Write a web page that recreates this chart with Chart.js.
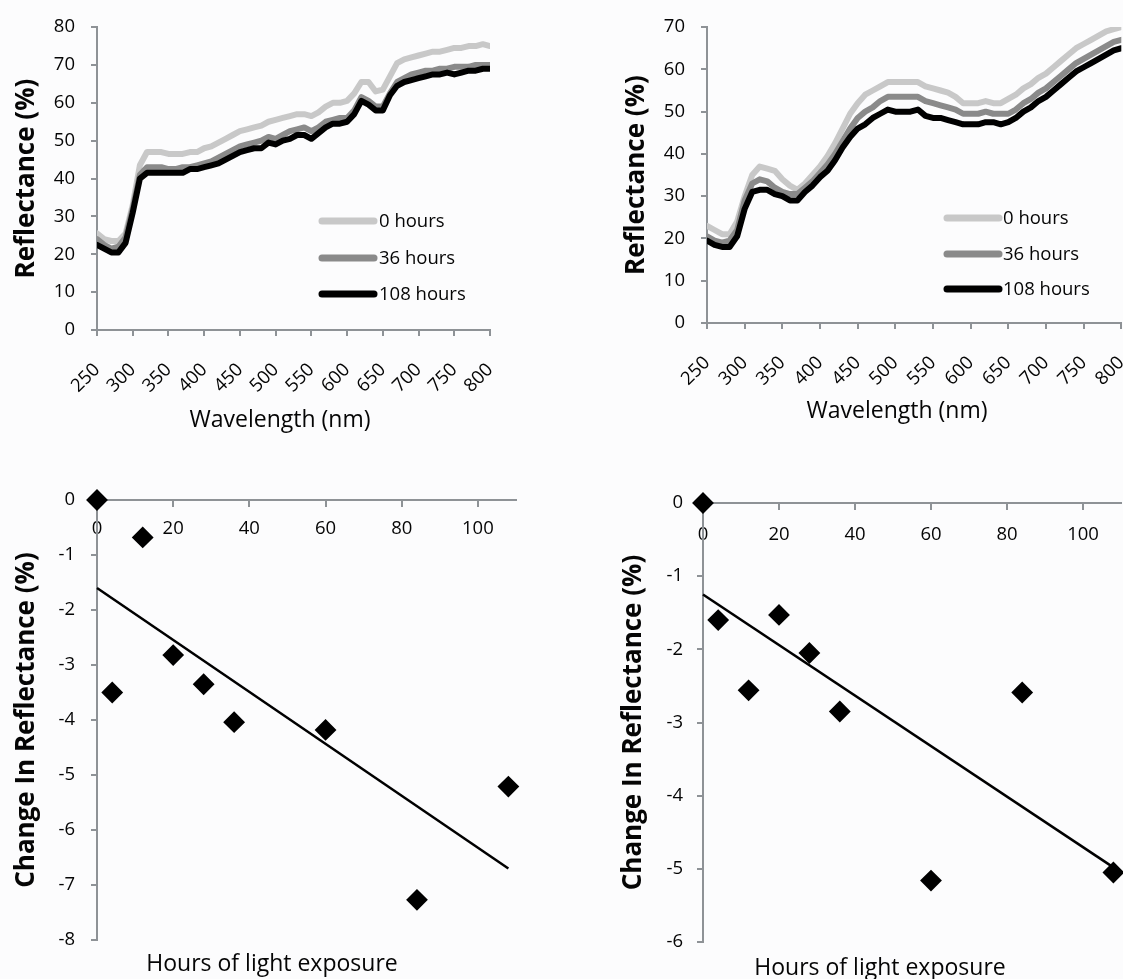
<!DOCTYPE html>
<html><head><meta charset="utf-8">
<script src="https://cdn.jsdelivr.net/npm/chart.js@4.4.1/dist/chart.umd.min.js"></script>
<style>
html,body{margin:0;padding:0;background:#fcfcfd;overflow:hidden;width:1123px;height:979px;}
canvas{position:absolute;}
</style></head><body>
<canvas id="c1" width="560" height="460" style="left:0;top:0;width:560px;height:460px"></canvas>
<canvas id="c2" width="600" height="460" style="left:560px;top:0;width:600px;height:460px"></canvas>
<canvas id="c3" width="560" height="519" style="left:0;top:460px;width:560px;height:519px"></canvas>
<canvas id="c4" width="600" height="519" style="left:560px;top:460px;width:600px;height:519px"></canvas>
<script>
// ---------- data ----------
const wavelengths = [250,260,270,280,290,300,310,320,330,340,350,360,370,380,390,400,410,420,430,440,450,460,470,480,490,500,510,520,530,540,550,560,570,580,590,600,610,620,630,640,650,660,670,680,690,700,710,720,730,740,750,760,770,780,790,800];
const seriesLabels = ['0 hours','36 hours','108 hours'];

const specA_0h   = [25.5,24,23.5,23.5,25.5,33,43.5,47,47,47,46.5,46.5,46.5,47,47,48,48.5,49.5,50.5,51.5,52.5,53,53.5,54,55,55.5,56,56.5,57,57,56.5,57.5,59,60,60,60.5,62.5,65.5,65.5,63,63.5,67,70.5,71.5,72,72.5,73,73.5,73.5,74,74.5,74.5,75,75,75.5,75];
const specA_36h  = [24,22.5,21.5,22,24.5,32,41,43,43,43,42.5,42.5,43,43,43.5,44,44.5,45.5,46.5,47.5,48.5,49,49.5,50,51,50.5,51.5,52.5,53,53.5,52.5,53.5,55,55.5,56,56,58,61.5,60.5,59,59,62.5,65.5,66.5,67.5,68,68.5,68.5,69,69,69.5,69.5,69.5,70,70,70];
const specA_108h = [22.5,21.5,20.5,20.5,23,31,40,41.5,41.5,41.5,41.5,41.5,41.5,42.5,42.5,43,43.5,44,45,46,47,47.5,48,48,49.5,49,50,50.5,51.5,51.5,50.5,52,53.5,54.5,54.5,55,57,60.5,59.5,58,58,62,64.5,65.5,66,66.5,67,67.5,67.5,68,67.5,68,68.5,68.5,69,69];

const specB_0h   = [23,22,21,21,24,30,35,37,36.5,36,34,32.5,31.5,33,35,37,39.5,42.5,46,49.5,52,54,55,56,57,57,57,57,57,56,55.5,55,54.5,53.5,52,52,52,52.5,52,52,53,54,55.5,56.5,58,59,60.5,62,63.5,65,66,67,68,69,69.5,70];
const specB_36h  = [20.5,19.5,19,19.5,22,29,33,34,33.5,32,31,30.5,30.5,32,33.5,35.5,37.5,40,43,46,48.5,50,51,52.5,53.5,53.5,53.5,53.5,53.5,52.5,52,51.5,51,50.5,49.5,49.5,49.5,50,49.5,49.5,49.5,50.5,52,53,54.5,55.5,57,58.5,60,61.5,62.5,63.5,64.5,65.5,66.5,67];
const specB_108h = [19.5,18.5,18,18,20.5,27,31,31.5,31.5,30.5,30,29,29,31,32.5,34.5,36,38.5,41.5,44,46,47,48.5,49.5,50.5,50,50,50,50.5,49,48.5,48.5,48,47.5,47,47,47,47.5,47.5,47,47.5,48.5,50,51,52.5,53.5,55,56.5,58,59.5,60.5,61.5,62.5,63.5,64.5,65];

const hours   = [0,4,12,20,28,36,60,84,108];
const changeA = [0,-3.5,-0.68,-2.82,-3.35,-4.04,-4.18,-7.27,-5.21];
const changeB = [0,-1.6,-2.56,-1.53,-2.05,-2.85,-5.16,-2.59,-5.05];
const trendHours = [0,108];
const trendA = [-1.6,-6.7];
const trendB = [-1.25,-4.98];

const specXTicks  = [250,300,350,400,450,500,550,600,650,700,750,800];
const specYTicksA = [0,10,20,30,40,50,60,70,80];
const specYTicksB = [0,10,20,30,40,50,60,70];
const hourTicks   = [0,20,40,60,80,100];
const changeTicksA = [0,-1,-2,-3,-4,-5,-6,-7,-8];
const changeTicksB = [0,-1,-2,-3,-4,-5,-6];

// ---------- styling ----------
const FONT = "'Open Sans', 'Noto Sans', sans-serif";
const TXT = '#050505';
const AXIS = '#8e9296';
const seriesColors = ['#c8c8c8','#8a8a8a','#000000'];

const xy = (xs, ys) => xs.map((x, i) => ({x, y: ys[i]}));

const annotate = {
  id: 'annotate',
  afterDraw(chart, args, opts) {
    const ctx = chart.ctx;
    ctx.save();
    if (opts.xTitle) {
      ctx.font = `23px ${FONT}`;
      ctx.fillStyle = TXT;
      ctx.textAlign = 'center';
      ctx.textBaseline = 'alphabetic';
      ctx.fillText(opts.xTitle.text, opts.xTitle.x, opts.xTitle.y);
    }
    if (opts.legend) {
      const L = opts.legend;
      chart.data.datasets.forEach((ds, i) => {
        const y = L.ys[i];
        ctx.strokeStyle = ds.borderColor;
        ctx.lineWidth = 7;
        ctx.lineCap = 'round';
        ctx.beginPath(); ctx.moveTo(L.x1, y); ctx.lineTo(L.x2, y); ctx.stroke();
        ctx.fillStyle = TXT;
        ctx.font = `18.5px ${FONT}`;
        ctx.textAlign = 'left';
        ctx.textBaseline = 'middle';
        ctx.fillText(ds.label, L.textX, y + 1);
      });
    }
    ctx.restore();
  }
};

function axisCommon() {
  return {
    grid: {display: true, drawOnChartArea: false, drawTicks: true, tickLength: 6, color: AXIS, lineWidth: 2},
    border: {display: true, color: AXIS, width: 2},
  };
}

function spectrumChart(id, series, yTicks, L) {
  const datasets = series.map((s, i) => ({
    label: seriesLabels[i], data: xy(wavelengths, s), borderColor: seriesColors[i],
    borderWidth: 6, pointRadius: 0, borderJoinStyle: 'round', borderCapStyle: 'round',
    tension: 0, fill: false, order: 2 - i
  }));
  return new Chart(document.getElementById(id), {
    type: 'line',
    data: {datasets},
    plugins: [annotate],
    options: {
      responsive: false, animation: false, devicePixelRatio: 1,
      layout: {padding: L.padding},
      plugins: {legend: {display: false}, tooltip: {enabled: false}, annotate: {xTitle: L.xTitle, legend: L.legend}},
      scales: {
        x: Object.assign(axisCommon(), {
          type: 'linear', min: specXTicks[0], max: specXTicks[specXTicks.length - 1],
          afterBuildTicks: s => { s.ticks = specXTicks.map(v => ({value: v})); },
          afterFit: s => { s.height = L.xHeight; },
          ticks: {autoSkip: false, minRotation: 45, maxRotation: 45, padding: 23, color: TXT, font: {family: FONT, size: 18.5}}
        }),
        y: Object.assign(axisCommon(), {
          min: yTicks[0], max: yTicks[yTicks.length - 1],
          afterBuildTicks: s => { s.ticks = yTicks.map(v => ({value: v})); },
          afterFit: s => { s.width = L.yWidth; },
          ticks: {padding: 16, color: TXT, font: {family: FONT, size: 18.5}},
          title: {display: true, text: 'Reflectance (%)', color: TXT, font: {family: FONT, size: 26, weight: 'bold'}, padding: {top: L.titlePad, bottom: 0}}
        })
      }
    }
  });
}

function changeChart(id, vals, trend, yTicks, L) {
  return new Chart(document.getElementById(id), {
    type: 'scatter',
    data: {datasets: [
      {data: xy(hours, vals), pointStyle: 'rectRot', pointRadius: 9.5, pointHoverRadius: 9.5, backgroundColor: '#000', borderColor: '#000', borderWidth: 2, clip: false},
      {type: 'line', data: xy(trendHours, trend), borderColor: '#000', borderWidth: 2.5, pointRadius: 0, showLine: true, fill: false, clip: false}
    ]},
    plugins: [annotate],
    options: {
      responsive: false, animation: false, devicePixelRatio: 1,
      layout: {padding: L.padding},
      plugins: {legend: {display: false}, tooltip: {enabled: false}, annotate: {xTitle: L.xTitle}},
      scales: {
        x: Object.assign(axisCommon(), {
          type: 'linear', position: {y: 0}, min: 0, max: 110,
          afterBuildTicks: s => { s.ticks = hourTicks.map(v => ({value: v})); },
          ticks: {autoSkip: false, maxRotation: 0, minRotation: 0, padding: L.xTickPad, color: TXT, font: {family: FONT, size: 18.5}}
        }),
        y: Object.assign(axisCommon(), {
          min: yTicks[yTicks.length - 1], max: yTicks[0],
          afterBuildTicks: s => { s.ticks = yTicks.map(v => ({value: v})).reverse(); },
          afterFit: s => { s.width = L.yWidth; },
          ticks: {padding: L.tickPad, color: TXT, font: {family: FONT, size: 18.5}},
          title: {display: true, text: 'Change In Reflectance (%)', color: TXT, font: {family: FONT, size: 26, weight: 'bold'}, padding: {top: L.titlePad, bottom: 0}}
        })
      }
    }
  });
}

spectrumChart('c1', [specA_0h, specA_36h, specA_108h], specYTicksA, {
  padding: {top: 23, right: 70, bottom: 0, left: 0}, xHeight: 130, yWidth: 97, titlePad: 11,
  xTitle: {text: 'Wavelength (nm)', x: 280, y: 427},
  legend: {x1: 322, x2: 374, textX: 379, ys: [221, 258, 294]}
});
spectrumChart('c2', [specB_0h, specB_36h, specB_108h], specYTicksB, {
  padding: {top: 16, right: 34, bottom: 0, left: 0}, xHeight: 137, yWidth: 147, titlePad: 61,
  xTitle: {text: 'Wavelength (nm)', x: 337, y: 418},
  legend: {x1: 387, x2: 439, textX: 443, ys: [218, 254, 289]}
});
changeChart('c3', changeA, trendA, changeTicksA, {
  padding: {top: 40, right: 44, bottom: 39, left: 0}, yWidth: 97, titlePad: 11, tickPad: 16, xTickPad: 12,
  xTitle: {text: 'Hours of light exposure', x: 272, y: 511}
});
changeChart('c4', changeB, trendB, changeTicksB, {
  padding: {top: 43, right: 39, bottom: 37, left: 0}, yWidth: 143, titlePad: 58, tickPad: 14, xTickPad: 15,
  xTitle: {text: 'Hours of light exposure', x: 320, y: 515}
});
</script>
</body></html>
